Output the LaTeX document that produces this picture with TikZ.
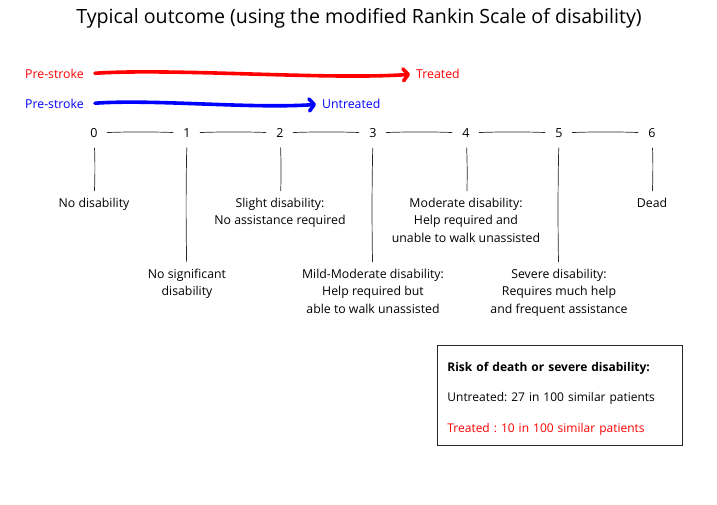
\documentclass[tikz,border=0pt]{standalone}
\usepackage{fontspec}
\setmainfont{Open Sans}
\frenchspacing
\usetikzlibrary{arrows.meta}
\definecolor{ink}{RGB}{40,40,40}
\tikzset{
  txt/.style={font=\fontsize{12.3}{17.3}\selectfont, align=center, inner sep=0pt, text=black},
  num/.style={font=\fontsize{12.5}{14}\selectfont, inner sep=0pt, text=black},
  hline/.style={draw=ink, line width=0.7pt, shorten <=9pt, shorten >=10pt},
  vline/.style={draw=ink, line width=0.7pt, shorten <=10pt, shorten >=7pt},
  bigarrow/.style={line width=3.6pt, line cap=round, line join=round,
     -{Straight Barb[length=5pt, width=12pt, round]}, shorten <=11pt, shorten >=6pt},
  boxstyle/.style={draw=ink, line width=0.8pt, align=left, text width=225pt,
     inner xsep=10pt, inner ysep=10pt, minimum height=100pt,
     font=\fontsize{12}{30.5}\selectfont}
}
\begin{document}
\begin{tikzpicture}[x=1pt, y=-1pt]
\useasboundingbox (0,0) rectangle (717,505);

\node[font=\fontsize{19.6}{22}\selectfont, inner sep=0pt] (title) at (359,18)
  {Typical outcome (using the modified Rankin Scale of disability)};

% arrows
\node[txt, text=red, anchor=west] (psr) at (25,74) {Pre-stroke};
\node[txt, text=red, anchor=west] (tr) at (416,74) {Treated};
\draw[bigarrow, red] (psr.east) .. controls +(90,-6) and +(-90,6) .. (tr.west);

\node[txt, text=blue, anchor=west] (psb) at (25,104) {Pre-stroke};
\node[txt, text=blue, anchor=west] (ut) at (322,104) {Untreated};
\draw[bigarrow, blue] (psb.east) .. controls +(70,-5) and +(-70,5) .. (ut.west);

% scale numbers
\foreach \i/\x in {0/94,1/187,2/280,3/373,4/466,5/559,6/652}
  \node[num] (n\i) at (\x,133) {\i};

\draw[hline] (n0) to[bend left=2] (n1);
\draw[hline] (n1) to[bend left=2] (n2);
\draw[hline] (n2) to[bend left=2] (n3);
\draw[hline] (n3) to[bend left=2] (n4);
\draw[hline] (n4) to[bend left=2] (n5);
\draw[hline] (n5) to[bend left=2] (n6);

% labels
\node[txt, anchor=north] (l0) at (94,198) {No disability};
\node[txt, anchor=north] (l1) at (187,269) {No significant\\disability};
\node[txt, anchor=north] (l2) at (280,198) {Slight disability:\\No assistance required};
\node[txt, anchor=north] (l3) at (373,269) {Mild-Moderate disability:\\Help required but\\able to walk unassisted};
\node[txt, anchor=north] (l4) at (466,198) {Moderate disability:\\Help required and\\unable to walk unassisted};
\node[txt, anchor=north] (l5) at (559,269) {Severe disability:\\Requires much help\\and frequent assistance};
\node[txt, anchor=north] (l6) at (652,198) {Dead};

\draw[vline] (n0) to[bend left=2] (l0);
\draw[vline] (n1) to[bend right=1] (l1);
\draw[vline] (n2) to[bend left=2] (l2);
\draw[vline] (n3) to[bend right=1] (l3);
\draw[vline] (n4) to[bend left=2] (l4);
\draw[vline] (n5) to[bend right=1] (l5);
\draw[vline] (n6) to[bend left=2] (l6);

% risk box
\node[boxstyle, anchor=north west] (box) at (437,345)
  {\rule{0pt}{16pt}\textbf{Risk of death or severe disability:}\\
   Untreated: 27 in 100 similar patients\\
   \textcolor{red}{Treated : 10 in 100 similar patients}};
\end{tikzpicture}
\end{document}
